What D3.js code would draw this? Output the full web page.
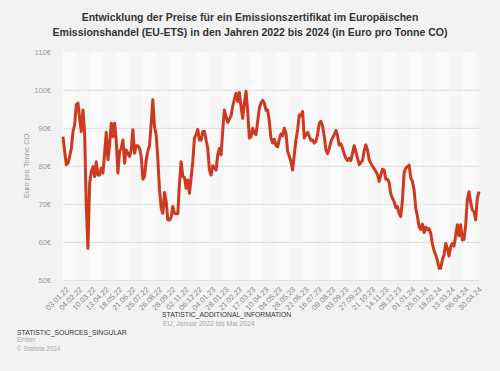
<!DOCTYPE html>
<html>
<head>
<meta charset="utf-8">
<script src="https://cdn.jsdelivr.net/npm/d3@7"></script>
<style>
  html, body { margin: 0; padding: 0; background: #f2f2f2; }
  #dataviz { width: 500px; height: 371px; }
</style>
</head>
<body>
<div id="dataviz"></div>
<script>
// tick labels, one every 8 samples
const tickLabels = ["03.01.22","04.02.22","10.03.22","13.04.22","18.05.22","21.06.22","25.07.22","26.08.22",
  "28.09.22","02.11.22","06.12.22","04.01.23","28.01.23","21.02.23","17.03.23","10.04.23",
  "04.05.23","28.05.23","22.06.23","16.07.23","09.08.23","03.09.23","27.09.23","21.10.23",
  "14.11.23","08.12.23","01.01.24","25.01.24","18.02.24","13.03.24","06.04.24","30.04.24"];

const yTicks = [50, 60, 70, 80, 90, 100, 110];

// price in Euro
const prices2022 = [
  87.7, 83.8, 80.3, 80.7, 82.5, 84.6, 89.0, 90.8, 96.1, 96.5, 92.5, 89.0, 94.7, 88.6, 69.3, 58.3,
  75.4, 78.5, 79.8, 77.2, 81.1, 77.6, 77.6, 79.4, 78.1, 83.3, 88.8, 81.6, 85.5, 91.2, 87.7, 91.2,
  86.8, 78.1, 83.8, 84.6, 86.8, 80.7, 84.2, 83.3, 82.5, 84.2, 89.5, 83.3, 85.3, 85.3, 84.6, 82.5,
  76.5, 77.2, 81.6, 83.9, 85.3, 91.2, 97.4, 90.2, 88.2, 81.6, 73.7, 68.9, 67.5, 73.0, 70.6, 65.8,
  65.8, 66.5, 69.3, 67.5, 67.4, 67.4, 75.4, 81.1, 77.2, 77.0, 74.1, 76.3, 72.8, 76.8, 81.1, 87.3,
  88.2, 89.6, 86.8, 86.8, 89.0, 89.0, 86.8, 84.6
];
const prices2023 = [
  78.9, 77.6, 80.0, 79.4, 78.9, 82.9, 84.6, 82.9, 89.3, 94.7, 93.0, 91.4, 92.3, 93.2, 95.6, 97.5,
  99.1, 96.9, 99.3, 95.6, 92.5, 96.5, 99.6, 94.3, 87.3, 87.7, 89.9, 88.6, 88.2, 91.7, 95.2, 96.5,
  97.2, 96.5, 94.6, 94.7, 91.7, 87.3, 86.0, 87.0, 85.3, 85.0, 87.0, 88.4, 87.9, 89.9, 88.6, 83.8,
  82.5, 81.1, 78.9, 82.9, 86.8, 89.5, 93.4, 93.2, 94.3, 87.3, 88.2, 88.8, 87.7, 86.7, 86.8, 86.0,
  86.4, 88.2, 91.2, 91.7, 90.5, 87.7, 84.2, 83.2, 84.6, 86.4, 87.3, 88.2, 89.3, 87.9, 85.5, 85.8,
  84.6, 83.1, 82.0, 81.4, 82.0, 81.4, 83.3, 85.3, 83.8, 82.0, 80.3, 80.9, 81.4, 84.0, 85.5, 84.2,
  81.6, 80.7, 79.8, 79.3, 78.5, 77.7, 75.9, 77.6, 79.1, 78.9, 76.5, 76.5, 75.6, 72.6, 71.5, 70.6
];
const prices2024 = [
  69.0, 69.3, 67.5, 66.7, 71.1, 78.2, 79.4, 79.8, 80.2, 76.8, 75.9, 73.7, 68.9, 66.7, 64.0, 63.3,
  64.7, 62.5, 63.9, 63.2, 63.5, 62.3, 59.5, 57.7, 56.6, 55.1, 53.1, 53.1, 55.4, 56.6, 59.6, 58.3,
  56.3, 58.8, 59.6, 58.9, 61.8, 64.5, 61.6, 64.5, 60.5, 60.7, 64.5, 71.2, 73.2, 70.4, 68.4, 68.0,
  65.8, 71.5, 73.2
];

const prices = prices2022.concat(prices2023, prices2024);
const step = 8;

// set the dimensions and margins of the graph
const margin = {top: 51.7, right: 21, bottom: 91, left: 63};
const width = 500 - margin.left - margin.right;
const height = 371 - margin.top - margin.bottom;

var svg = d3.select("#dataviz")
  .append("svg")
    .attr("width", 500)
    .attr("height", 371)
    .style("font-family", "'Liberation Sans', Arial, sans-serif");

var g = svg.append("g")
    .attr("transform", `translate(${margin.left}, ${margin.top})`);

// title
svg.append("text")
  .attr("x", 250).attr("y", 21)
  .attr("text-anchor", "middle")
  .style("font-size", "10.5px").style("font-weight", "bold").style("fill", "#333")
  .text("Entwicklung der Preise für ein Emissionszertifikat im Europäischen");
svg.append("text")
  .attr("x", 250).attr("y", 36)
  .attr("text-anchor", "middle")
  .style("font-size", "10.5px").style("font-weight", "bold").style("fill", "#333")
  .text("Emissionshandel (EU-ETS) in den Jahren 2022 bis 2024 (in Euro pro Tonne CO)");

// scales
const xScale = d3.scaleLinear()
  .domain([0, prices.length - 1])
  .range([0, width]);

const yScale = d3.scaleLinear()
  .domain([50, 110])
  .range([height, 0]);

// striped background
const bands = d3.range(0, prices.length, step);
g.selectAll(".band")
  .data(bands)
  .enter()
  .append("rect")
    .attr("class", "band")
    .attr("x", d => xScale(d))
    .attr("y", 0)
    .attr("width", d => xScale(Math.min(d + step, prices.length - 1)) - xScale(d))
    .attr("height", height)
    .style("fill", (d, i) => i % 2 ? "#f6f6f6" : "#fafafa");

// Y axis with grid
const yAxis = g.append("g")
  .call(d3.axisLeft(yScale).tickValues(yTicks).tickSize(-width).tickPadding(12).tickFormat(d => d + "€"));
yAxis.select(".domain").remove();
yAxis.selectAll(".tick line")
  .style("stroke", d => d === 110 ? "none" : "#dedede");
yAxis.selectAll(".tick text")
  .style("font-size", "7.5px").style("fill", "#999");

// X axis
const xAxis = g.append("g")
  .attr("transform", `translate(0, ${height})`)
  .call(d3.axisBottom(xScale)
    .tickValues(tickLabels.map((d, i) => i * step))
    .tickSize(0)
    .tickFormat((d, i) => tickLabels[i]));
xAxis.select(".domain").remove();
xAxis.selectAll(".tick text")
  .attr("text-anchor", "end")
  .attr("transform", "translate(2, 6) rotate(-45)")
  .attr("dy", "0.35em")
  .style("font-size", "7.5px").style("fill", "#888");

// y axis title
svg.append("text")
  .attr("transform", `translate(29, ${margin.top + yScale(80)}) rotate(-90)`)
  .attr("text-anchor", "middle")
  .style("font-size", "7.5px").style("fill", "#999")
  .text("Euro pro Tonne CO");

// price line
g.append("path")
  .datum(prices)
  .attr("d", d3.line().x((d, i) => xScale(i)).y(d => yScale(d)))
  .style("fill", "none")
  .style("stroke", "#cd3a1f")
  .style("stroke-width", 3)
  .style("stroke-linejoin", "round");

// notes at the bottom
svg.append("text")
  .attr("x", 162).attr("y", 317)
  .style("font-size", "6.8px").style("fill", "#333")
  .text("STATISTIC_ADDITIONAL_INFORMATION");
svg.append("text")
  .attr("x", 163).attr("y", 326)
  .style("font-size", "6.8px").style("fill", "#aaa")
  .text("EU; Januar 2022 bis Mai 2024");
svg.append("text")
  .attr("x", 17).attr("y", 335)
  .style("font-size", "6.8px").style("fill", "#333")
  .text("STATISTIC_SOURCES_SINGULAR");
svg.append("text")
  .attr("x", 17).attr("y", 342)
  .style("font-size", "6.3px").style("fill", "#aaa")
  .text("Ember");
svg.append("text")
  .attr("x", 17).attr("y", 351)
  .style("font-size", "6.3px").style("fill", "#aaa")
  .text("© Statista 2024");
</script>
</body>
</html>
